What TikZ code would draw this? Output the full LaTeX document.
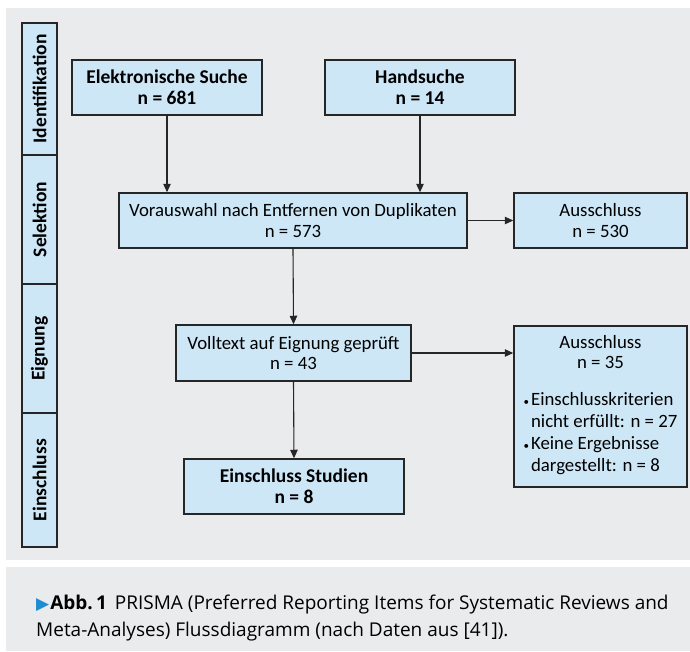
\documentclass[tikz,border=0pt]{standalone}
\usepackage{fontspec}
\setmainfont{Carlito}
\newfontfamily\capfont{Open Sans}
\newfontfamily\symfont{DejaVu Sans}
\usetikzlibrary{arrows.meta}
\definecolor{panelgray}{RGB}{234,235,237}
\definecolor{boxblue}{RGB}{205,231,247}
\definecolor{linedark}{RGB}{38,38,38}
\definecolor{capblue}{RGB}{30,140,210}

\begin{document}
\begin{tikzpicture}[
  x=1pt, y=-1pt,
  box/.style={draw=linedark, fill=boxblue, line width=1.5pt, align=center, inner sep=3pt, font=\fontsize{18.8}{20.7}\selectfont},
  boldbox/.style={box, font=\fontsize{19.5}{20.7}\selectfont\bfseries},
  phase/.style={draw=linedark, fill=boxblue, line width=1.2pt, minimum height=35pt, rotate=90, font=\fontsize{19.5}{21}\selectfont\bfseries},
  arrow/.style={-{Triangle[length=8.5pt,width=7.5pt]}, line width=1.1pt, draw=linedark}
]
\useasboundingbox (0,0) rectangle (690,651);
\fill[white] (0,0) rectangle (690,651);
\fill[panelgray] (6,8) rectangle (690,560);
\fill[panelgray] (6,567) rectangle (690,651);

% phases on the left
\node[phase, minimum width=132pt] (ident) at (39.5,89) {Identifikation};
\node[phase, minimum width=129pt] (sel) at (39.5,219.5) {Selektion};
\node[phase, minimum width=129pt] (eign) at (39.5,348.5) {Eignung};
\node[phase, minimum width=134pt] (einp) at (39.5,480) {Einschluss};

% flow boxes
\node[boldbox, minimum width=190pt, minimum height=55pt] (elek) at (167,87.5) {Elektronische Suche\\n = 681};
\node[boldbox, minimum width=190pt, minimum height=55pt] (hand) at (420,87.5) {Handsuche\\n = 14};
\node[box, minimum width=348pt, minimum height=55pt] (vor) at (293,220.5) {Vorauswahl nach Entfernen von Duplikaten\\n = 573};
\node[box, minimum width=173pt, minimum height=55pt] (aus1) at (600.5,220.5) {Ausschluss\\n = 530};
\node[box, minimum width=235pt, minimum height=56pt] (voll) at (293.5,353) {Volltext auf Eignung geprüft\\n = 43};
\node[box, minimum width=173pt, minimum height=161pt] (aus2) at (600.5,406.5) {Ausschluss\\n = 35\\[20.7pt]
  \begin{tabular}{@{}l@{\hspace{2pt}}l@{}}
  {\fontsize{11}{12}\selectfont\textbullet} & Einschlusskriterien\\[1.5pt]
   & nicht erfüllt: n = 27\\[1.5pt]
  {\fontsize{11}{12}\selectfont\textbullet} & Keine Ergebnisse\\[1.5pt]
   & dargestellt: n = 8
  \end{tabular}};
\node[boldbox, minimum width=220pt, minimum height=55pt] (ein) at (294,486.5) {Einschluss Studien\\n = 8};

\draw[arrow] (elek.south) -- (elek.south |- vor.north);
\draw[arrow] (hand.south) -- (hand.south |- vor.north);
\draw[arrow] (vor.east) -- (aus1.west);
\draw[arrow] (vor.south) -- (voll.north);
\draw[arrow] (voll.east) -- (voll.east -| aus2.west);
\draw[arrow] (voll.south) -- (ein.north);

% caption
\node[anchor=north west, align=left, inner sep=0pt, font=\capfont\fontsize{19}{27}\selectfont] (cap) at (36,595)
  {{\symfont\color{capblue}\fontsize{17}{17}\selectfont ▶}\hspace{1pt}\textbf{Abb.\,1}\hspace{8pt}PRISMA (Preferred Reporting Items for Systematic Reviews and\\Meta-Analyses) Flussdiagramm (nach Daten aus [41]).};
\end{tikzpicture}
\end{document}
